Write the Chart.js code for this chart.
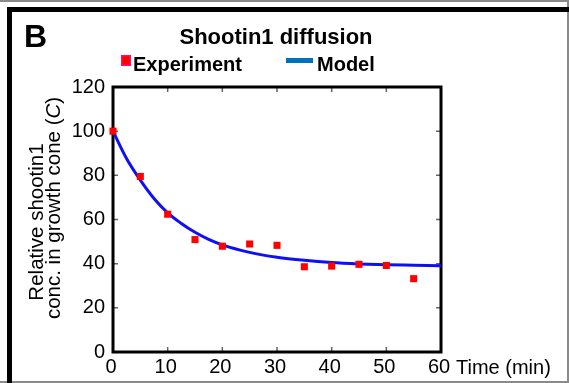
<!DOCTYPE html>
<html><head><meta charset="utf-8">
<script src="https://cdn.jsdelivr.net/npm/chart.js@4/dist/chart.umd.min.js"></script>
<style>html,body{margin:0;padding:0;background:#fff;}canvas{display:block;}</style>
</head><body>
<canvas id="c" width="569" height="383"></canvas>
<script>
const times = [0, 5, 10, 15, 20, 25, 30, 35, 40, 45, 50, 55];
const experiment = [100, 79.5, 62.4, 50.9, 47.9, 48.9, 48.3, 38.6, 38.9, 39.7, 39.2, 33.2];
const modelTimes = [0, 2.5, 5, 7.5, 10, 12.5, 15, 17.5, 20, 25, 30, 35, 40, 45, 50, 55, 60];
const model = [100, 87.5, 77.8, 69.5, 63, 58.2, 54.2, 51, 48.5, 45.1, 42.9, 41.5, 40.5, 39.9, 39.5, 39.3, 39.1];
const xTicks = [0, 10, 20, 30, 40, 50, 60];
const yTicks = [0, 20, 40, 60, 80, 100, 120];

const FONT = '"Liberation Sans", Arial, sans-serif';

const deco = {
  id: 'deco',
  beforeDraw(chart) {
    const ctx = chart.ctx;
    ctx.save();
    ctx.fillStyle = '#fff';
    ctx.fillRect(0, 0, 569, 383);
    ctx.fillStyle = '#8a8a8a';
    ctx.fillRect(0, 0, 569, 2);
    ctx.fillRect(567, 0, 2, 383);
    ctx.fillRect(0, 381, 569, 2);
    ctx.fillStyle = '#000';
    ctx.fillRect(7, 7, 562, 5);
    ctx.fillRect(7, 7, 5, 376);
    ctx.restore();
  },
  beforeDatasetsDraw(chart) {
    const ctx = chart.ctx, a = chart.chartArea;
    const xs = chart.scales.x, ys = chart.scales.y;
    ctx.save();
    ctx.strokeStyle = '#666';
    ctx.lineWidth = 1.5;
    const L = 5;
    xs.ticks.forEach(t => {
      const px = xs.getPixelForValue(t.value);
      ctx.beginPath();
      ctx.moveTo(px, a.bottom); ctx.lineTo(px, a.bottom - L);
      ctx.moveTo(px, a.top); ctx.lineTo(px, a.top + L);
      ctx.stroke();
    });
    ys.ticks.forEach(t => {
      const py = ys.getPixelForValue(t.value);
      ctx.beginPath();
      ctx.moveTo(a.left, py); ctx.lineTo(a.left + L, py);
      ctx.moveTo(a.right, py); ctx.lineTo(a.right - L, py);
      ctx.stroke();
    });
    ctx.strokeStyle = '#000';
    ctx.lineWidth = 3;
    ctx.strokeRect(a.left, a.top, a.right - a.left, a.bottom - a.top);
    ctx.restore();
  },
  afterDraw(chart) {
    const ctx = chart.ctx;
    ctx.save();
    ctx.fillStyle = '#000';
    ctx.textBaseline = 'alphabetic';
    ctx.font = 'bold 32px ' + FONT;
    ctx.textAlign = 'left';
    ctx.fillText('B', 24, 47);
    ctx.font = 'bold 22px ' + FONT;
    ctx.textAlign = 'center';
    ctx.fillText('Shootin1 diffusion', 276, 44);
    ctx.fillStyle = '#ff1060';
    ctx.fillRect(121, 55, 10, 11);
    ctx.fillStyle = '#ff0000';
    ctx.fillRect(122.5, 56.5, 7, 8);
    ctx.fillStyle = 'rgb(0,112,192)';
    ctx.fillRect(286, 58, 27, 5);
    ctx.fillStyle = '#000';
    ctx.font = 'bold 20px ' + FONT;
    ctx.textAlign = 'left';
    ctx.fillText('Experiment', 133, 71);
    ctx.fillText('Model', 317, 71);
    ctx.font = '20px ' + FONT;
    ctx.fillText('Time (min)', 456, 374);
    const FS = '20.5px ';
    ctx.save();
    ctx.translate(43, 222);
    ctx.rotate(-Math.PI / 2);
    ctx.textAlign = 'center';
    ctx.font = FS + FONT;
    ctx.fillText('Relative shootin1', 0, 0);
    ctx.restore();
    ctx.save();
    ctx.translate(60, 208);
    ctx.rotate(-Math.PI / 2);
    ctx.textAlign = 'left';
    const p1 = 'conc. in growth cone (', p2 = 'C', p3 = ')';
    ctx.font = FS + FONT;
    const w1 = ctx.measureText(p1).width, w3 = ctx.measureText(p3).width;
    ctx.font = 'italic ' + FS + FONT;
    const w2 = ctx.measureText(p2).width;
    const x0 = -(w1 + w2 + w3) / 2;
    ctx.font = FS + FONT;
    ctx.fillText(p1, x0, 0);
    ctx.font = 'italic ' + FS + FONT;
    ctx.fillText(p2, x0 + w1, 0);
    ctx.font = FS + FONT;
    ctx.fillText(p3, x0 + w1 + w2, 0);
    ctx.restore();
    ctx.restore();
  }
};

new Chart(document.getElementById('c'), {
  type: 'scatter',
  data: {
    datasets: [
      {
        label: 'Model',
        type: 'line',
        data: modelTimes.map((t, i) => ({ x: t, y: model[i] })),
        borderColor: 'rgb(15,15,245)',
        borderWidth: 3,
        pointRadius: 0,
        fill: false,
        cubicInterpolationMode: 'monotone',
        order: 2
      },
      {
        label: 'Experiment',
        data: times.map((t, i) => ({ x: t, y: experiment[i] })),
        backgroundColor: '#ff0000',
        borderColor: '#ff0000',
        borderWidth: 0,
        pointStyle: 'rect',
        pointRadius: 5,
        clip: false,
        order: 1
      }
    ]
  },
  options: {
    responsive: false,
    devicePixelRatio: 1,
    animation: false,
    events: [],
    layout: { padding: { left: 0, top: 87, right: 128, bottom: 0 } },
    plugins: { legend: { display: false }, title: { display: false }, tooltip: { enabled: false } },
    scales: {
      x: {
        type: 'linear', min: 0, max: 60,
        afterBuildTicks: s => { s.ticks = xTicks.map(v => ({ value: v })); },
        afterFit: s => { s.height = 31; },
        grid: { display: false, drawTicks: false },
        border: { display: false },
        ticks: { font: { size: 20, family: FONT }, color: '#000', padding: 3, maxRotation: 0, labelOffset: -2 }
      },
      y: {
        type: 'linear', min: 0, max: 120,
        afterBuildTicks: s => { s.ticks = yTicks.map(v => ({ value: v })); },
        afterFit: s => { s.width = 113; },
        grid: { display: false, drawTicks: false },
        border: { display: false },
        ticks: { font: { size: 20, family: FONT }, color: '#000', padding: 8 }
      }
    }
  },
  plugins: [deco]
});
</script>
</body></html>
